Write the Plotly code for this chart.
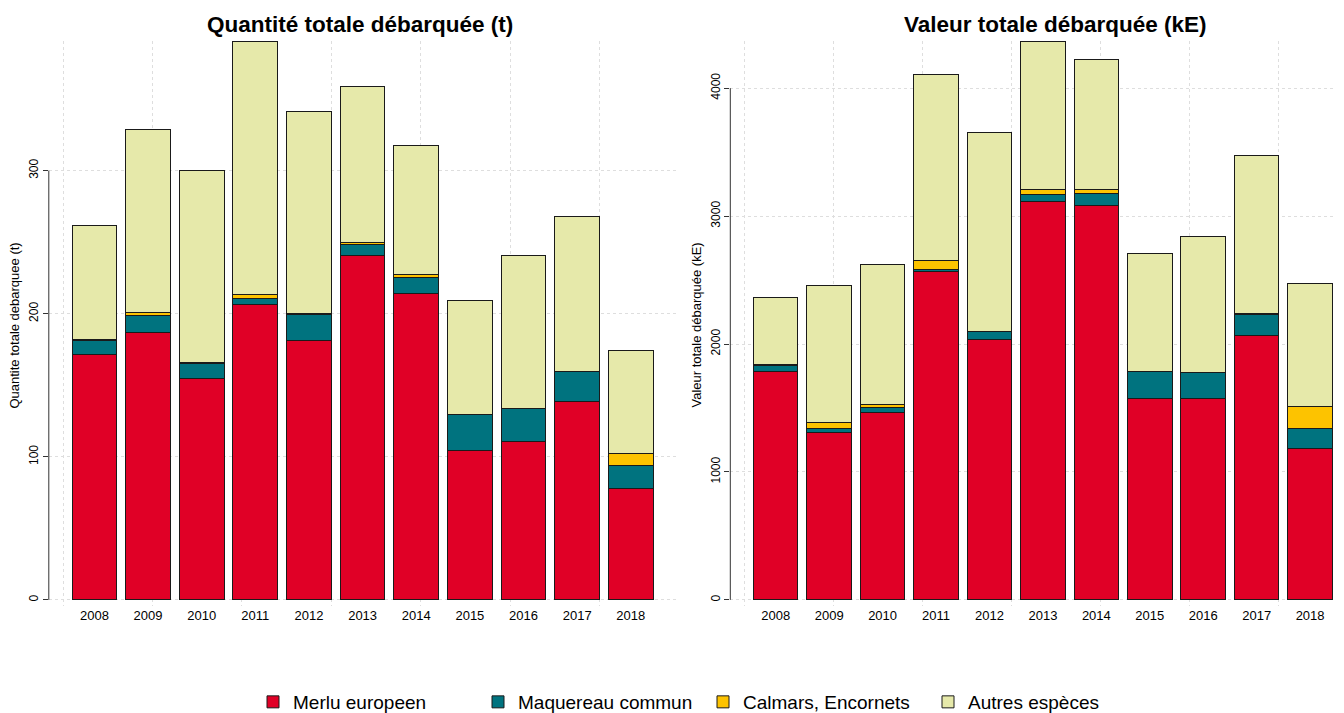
import plotly.graph_objects as go

years = ["2008", "2009", "2010", "2011", "2012", "2013", "2014", "2015", "2016", "2017", "2018"]
species = ["Merlu europeen", "Maquereau commun", "Calmars, Encornets", "Autres espèces"]
colors = ["#E00026", "#00737F", "#FDC300", "#E6E9AA"]

# Quantité (t)
merlu_t = [171.5, 187.0, 154.6, 206.5, 181.6, 241.0, 214.0, 104.5, 110.4, 138.3, 77.6]
maquereau_t = [10.0, 11.6, 10.4, 4.0, 18.0, 7.5, 11.0, 24.7, 23.2, 21.0, 16.3]
calmars_t = [0.3, 1.9, 1.2, 2.8, 0.3, 1.1, 2.1, 0.2, 0.2, 0.6, 8.1]
autres_t = [79.5, 128.3, 133.7, 176.9, 141.7, 109.4, 90.3, 80.1, 107.1, 107.7, 72.1]

# Valeur (kE)
merlu_v = [1783, 1307, 1468, 2568, 2038, 3112, 3084, 1572, 1572, 2069, 1187]
maquereau_v = [52, 33, 39, 14, 60, 60, 96, 213, 206, 165, 156]
calmars_v = [5, 50, 18, 68, 3, 32, 31, 3, 3, 6, 171]
autres_v = [521, 1069, 1098, 1456, 1550, 1163, 1015, 918, 1056, 1237, 956]

yticks_t = [0, 100, 200, 300]
yticks_v = [0, 1000, 2000, 3000, 4000]

titles = ["Quantité totale débarquée (t)", "Valeur totale débarquée (kE)"]
ytitles = ["Quantite totale debarquee (t)", "Valeur totale débarquée (kE)"]

FONT = "Liberation Sans, Arial, sans-serif"
W, H = 1344, 713
OFF = 8  # default page body margin

# R barplot geometry: width 1, space 0.2
centers = [0.7 + 1.2 * i for i in range(len(years))]

fig = go.Figure()

series_t = [merlu_t, maquereau_t, calmars_t, autres_t]
series_v = [merlu_v, maquereau_v, calmars_v, autres_v]

for k, (name, col) in enumerate(zip(species, colors)):
    fig.add_trace(go.Bar(
        x=centers, y=series_t[k], width=1.0, name=name, legendgroup=name,
        marker=dict(color=col, line=dict(color="#1a1a1a", width=1)),
        xaxis="x", yaxis="y", showlegend=True,
    ))
    fig.add_trace(go.Bar(
        x=centers, y=series_v[k], width=1.0, name=name, legendgroup=name,
        marker=dict(color=col, line=dict(color="#1a1a1a", width=1)),
        xaxis="x2", yaxis="y2", showlegend=False,
    ))


def px_x(p):
    return (p - OFF) / W


def px_y(p):
    return 1 - (p - OFF) / H


ydom = [px_y(607), px_y(41)]
GRID = "#DEDEDE"

xcommon = dict(
    tickmode="array", tickvals=centers, ticktext=years, ticks="", showgrid=False,
    showline=False, zeroline=False, tickfont=dict(size=13, color="black", family=FONT),
    minor=dict(tick0=0, dtick=2, showgrid=True, griddash="dot", gridcolor=GRID,
               gridwidth=1, ticks=""),
)
ycommon = dict(
    tickmode="array", ticks="outside", ticklen=5, tickwidth=1, tickcolor="#333333",
    showgrid=True, griddash="dot", gridcolor=GRID, gridwidth=1,
    showline=False, zeroline=False, tickangle=-90,
    tickfont=dict(size=12, color="black", family=FONT),
)

fig.update_layout(
    width=W, height=H,
    margin=dict(l=0, r=0, t=0, b=0),
    paper_bgcolor="white", plot_bgcolor="white",
    barmode="stack",
    font=dict(family=FONT, color="black"),
    xaxis=dict(domain=[px_x(48.8), px_x(676.4)], range=[-0.32, 13.72], anchor="y", **xcommon),
    xaxis2=dict(domain=[px_x(730.3), 1.0], range=[-0.32, -0.32 + (W + OFF - 730.3) / 44.53],
                anchor="y2", **xcommon),
    yaxis=dict(domain=ydom, range=[-4.4, 390.6], tickvals=yticks_t, anchor="x", **ycommon),
    yaxis2=dict(domain=ydom, range=[-49.2, 4369], tickvals=yticks_v, anchor="x2", **ycommon),
    legend=dict(orientation="h", x=px_x(253), xanchor="left", y=px_y(703), yanchor="middle",
                font=dict(size=19, family=FONT), entrywidth=180, traceorder="normal",
                bgcolor="rgba(0,0,0,0)"),
    showlegend=True,
)

# axis lines spanning first to last tick (R style)
for yref, ticks in (("y", yticks_t), ("y2", yticks_v)):
    xr = "x domain" if yref == "y" else "x2 domain"
    fig.add_shape(type="line", xref=xr, yref=yref, x0=0, x1=0, y0=ticks[0], y1=ticks[-1],
                  line=dict(color="#333333", width=1))

# titles
for cx, t in zip((360, 1055), titles):
    fig.add_annotation(text="<b>" + t + "</b>", xref="paper", yref="paper", x=px_x(cx), y=px_y(25),
                       xanchor="center", yanchor="middle", showarrow=False,
                       font=dict(size=22.5, family=FONT, color="black"))

for cx, t in zip((15, 697), ytitles):
    fig.add_annotation(text=t, xref="paper", yref="paper", x=px_x(cx), y=px_y(326),
                       xanchor="center", yanchor="middle", showarrow=False, textangle=-90,
                       font=dict(size=13, family=FONT, color="black"))

fig.write_html("out.html")
